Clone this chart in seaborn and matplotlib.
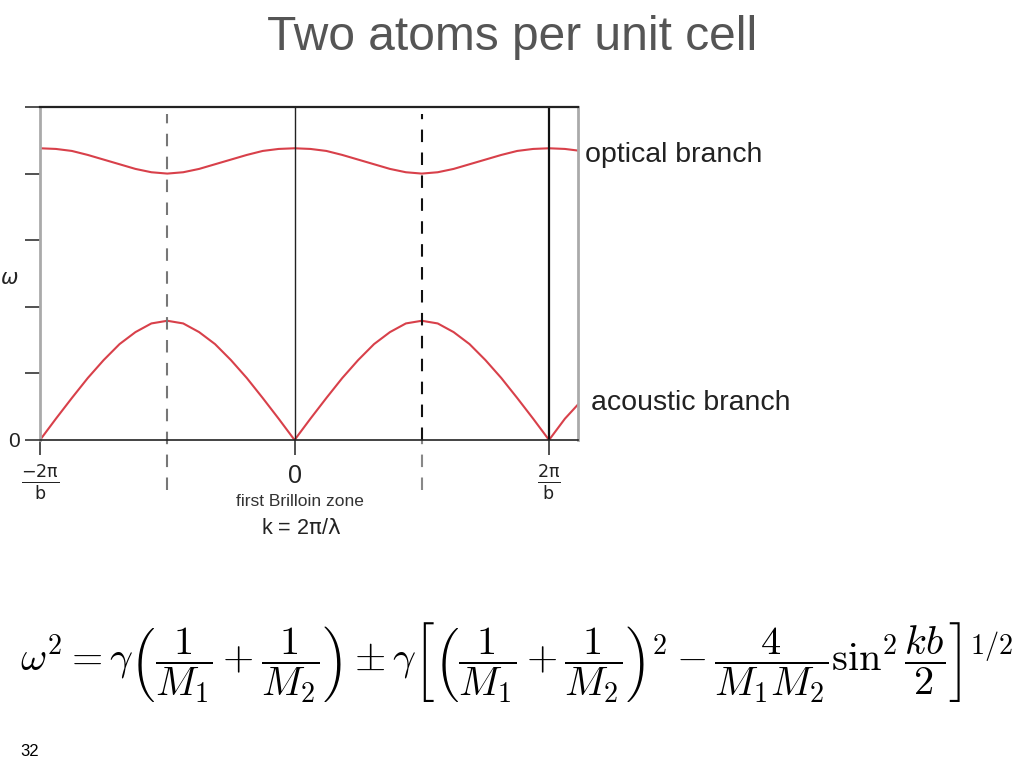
import numpy as np
import pandas as pd
import matplotlib
matplotlib.use("Agg")
import matplotlib.pyplot as plt
import seaborn as sns

# wave vector k in units of pi/b
k_vals = [-2.0, -1.875, -1.75, -1.625, -1.5, -1.375, -1.25, -1.125, -1.0,
          -0.875, -0.75, -0.625, -0.5, -0.375, -0.25, -0.125, 0.0,
          0.125, 0.25, 0.375, 0.5, 0.625, 0.75, 0.875, 1.0,
          1.125, 1.25, 1.375, 1.5, 1.625, 1.75, 1.875, 2.0, 2.125, 2.25]

# frequency (arbitrary units, axis ticks 0..5)
optical = [4.38, 4.37, 4.34, 4.28, 4.21, 4.14, 4.07, 4.02, 4.00,
           4.02, 4.07, 4.14, 4.21, 4.28, 4.34, 4.37, 4.38,
           4.37, 4.34, 4.28, 4.21, 4.14, 4.07, 4.02, 4.00,
           4.02, 4.07, 4.14, 4.21, 4.28, 4.34, 4.37, 4.38, 4.37, 4.34]
acoustic = [0.00, 0.32, 0.63, 0.93, 1.20, 1.44, 1.62, 1.75, 1.79,
            1.75, 1.62, 1.44, 1.20, 0.93, 0.63, 0.32, 0.00,
            0.32, 0.63, 0.93, 1.20, 1.44, 1.62, 1.75, 1.79,
            1.75, 1.62, 1.44, 1.20, 0.93, 0.63, 0.32, 0.00, 0.32, 0.58]

xtick_pos = [-2, 0, 2]
xtick_labels = [r"$\frac{\mathrm{-2\pi}}{\mathrm{b}}$", "0", r"$\frac{\mathrm{2\pi}}{\mathrm{b}}$"]
ytick_pos = [0, 1, 2, 3, 4, 5]

df = pd.DataFrame({"k": k_vals * 2,
                   "omega": optical + acoustic,
                   "branch": ["optical"] * len(k_vals) + ["acoustic"] * len(k_vals)})

sns.set_style("white")
plt.rcParams["font.family"] = ["Liberation Sans", "DejaVu Sans"]

fig = plt.figure(figsize=(10.24, 7.68), dpi=100)
ax = fig.add_axes([0.0391, 0.4271, 0.5254, 0.4336])

red = "#d8404a"
sns.lineplot(data=df, x="k", y="omega", hue="branch", units="branch", estimator=None,
             palette={"optical": red, "acoustic": red}, linewidth=1.5, legend=False, ax=ax)

ax.set_xlim(-2, 2.228)
ax.set_ylim(0, 5)

# vertical guides
ax.axvline(0, color="#222222", linewidth=1.0)
ax.axvline(2, color="#111111", linewidth=1.6)
ax.axvline(-1, ymin=-0.15, ymax=0.98, color="#777777", linewidth=1.5,
           linestyle=(0, (6, 5)), clip_on=False)
ax.axvline(1, ymin=0.0, ymax=0.98, color="#111111", linewidth=1.5,
           linestyle=(0, (6, 5)), clip_on=False)
ax.axvline(1, ymin=-0.15, ymax=0.0, color="#888888", linewidth=1.5,
           linestyle=(0, (6, 5)), clip_on=False)

for side in ["left", "right"]:
    ax.spines[side].set_color("#aaaaaa")
    ax.spines[side].set_linewidth(2.0)
for side in ["top", "bottom"]:
    ax.spines[side].set_color("#222222")
    ax.spines[side].set_linewidth(1.6 if side == "top" else 1.2)

ax.set_yticks(ytick_pos)
ax.set_yticklabels(["0", "", "", "", "", ""], fontsize=15, color="#222222")
ax.set_xticks(xtick_pos)
ax.set_xticklabels(xtick_labels, fontsize=18, color="#222222")
for lab in ax.get_xticklabels():
    lab.set_math_fontfamily("dejavusans")
ax.tick_params(axis="y", direction="out", length=11, width=1.2, color="#333333", left=True)
ax.tick_params(axis="x", direction="out", length=11, width=1.2, color="#333333", bottom=True, pad=6)
ax.set_xlabel("")
ax.set_ylabel("")

# branch labels
ax.text(2.28, 4.28, "optical branch", fontsize=20.5, color="#222222", va="center",
        ha="left", clip_on=False)
ax.text(2.33, 0.55, "acoustic branch", fontsize=20.5, color="#222222", va="center",
        ha="left", clip_on=False)

# axis captions below
fig.text(300 / 1024, 1 - 502 / 768, "first Brilloin zone", fontsize=12.5,
         color="#333333", ha="center", va="center")
fig.text(301 / 1024, 1 - 528 / 768, r"k = 2$\mathrm{\pi}$/$\mathrm{\lambda}$", fontsize=15.5,
         color="#222222", ha="center", va="center", math_fontfamily="dejavusans")
fig.text(0.0, 1 - 278 / 768, r"$\omega$", fontsize=15, color="#222222",
         ha="left", va="center")

# title
fig.text(0.5, 1 - 38 / 768, "Two atoms per unit cell", fontsize=34.5,
         color="#555555", ha="center", va="center")

# dispersion relation
fig.text(517 / 1024, 1 - 662 / 768,
         r"$\omega^2 = \gamma\left(\dfrac{1}{M_1}+\dfrac{1}{M_2}\right) \pm \gamma"
         r"\left[\left(\dfrac{1}{M_1}+\dfrac{1}{M_2}\right)^2 - \dfrac{4}{M_1 M_2}"
         r"\sin^2\dfrac{kb}{2}\right]^{1/2}$",
         fontsize=29, color="black", ha="center", va="center", math_fontfamily="cm")

fig.text(30 / 1024, 1 - 752 / 768, "32", fontsize=12, color="black", ha="center", va="center")

fig.savefig("out.png", dpi=100)
